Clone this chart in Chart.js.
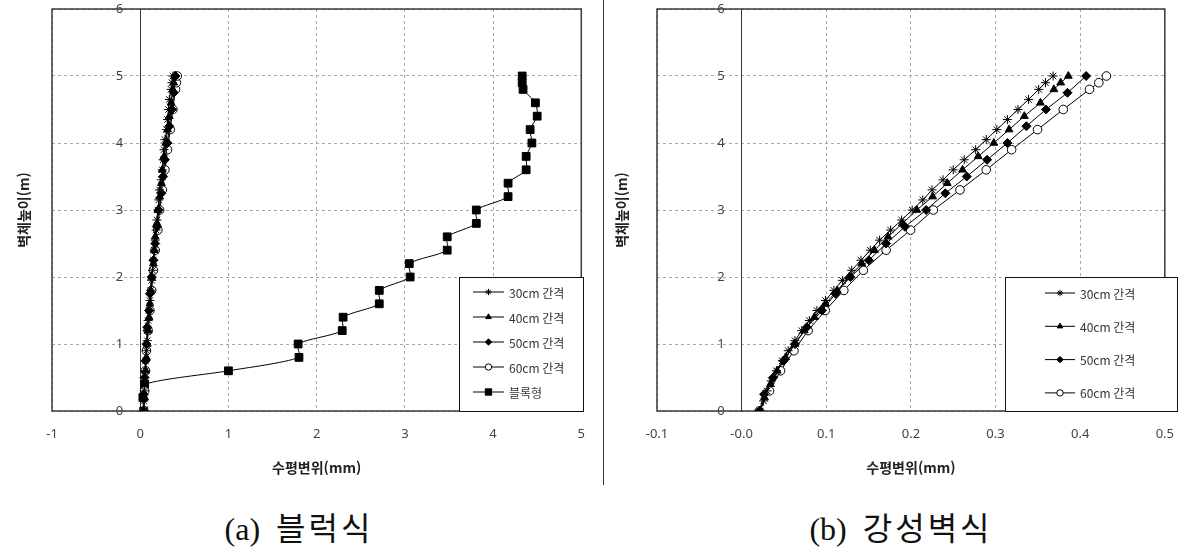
<!DOCTYPE html>
<html lang="ko">
<head>
<meta charset="utf-8">
<title>수평변위 - 벽체높이</title>
<script src="https://cdn.jsdelivr.net/npm/chart.js@4.4.0/dist/chart.umd.min.js"></script>
<style>
    html, body { margin: 0; padding: 0; background: #fff; }
    body { width: 1189px; height: 548px; position: relative; overflow: hidden; }
    canvas { position: absolute; top: 0; }
    #chartA { left: 0; }
    #chartB { left: 604px; }
    .divider { position: absolute; left: 603px; top: 0; width: 1px; height: 485px; background: #333; }
    .caption {
        position: absolute; top: 511px; transform: translateX(-50%);
        font-family: "Liberation Serif", "Noto Sans CJK KR", serif;
        font-size: 32px; line-height: 36px; color: #111; white-space: nowrap;
    }
    .caption span { letter-spacing: 3px; margin-left: 16px; }
</style>
</head>
<body>
<canvas id="chartA" width="600" height="485"></canvas>
<div class="divider"></div>
<canvas id="chartB" width="585" height="485"></canvas>
<div class="caption" style="left:299px">(a)<span>블럭식</span></div>
<div class="caption" style="left:901px">(b)<span>강성벽식</span></div>

<script>
// --- data: 벽체높이(m) for each series, and 수평변위(mm) ---
const seriesLabels = ['30cm 간격', '40cm 간격', '50cm 간격', '60cm 간격', '블록형'];

const h30 = [0, 0.15, 0.3, 0.45, 0.6, 0.75, 0.9, 1.05, 1.2, 1.35, 1.5, 1.65, 1.8, 1.95, 2.1, 2.25, 2.4, 2.55,
             2.7, 2.85, 3.0, 3.15, 3.3, 3.45, 3.6, 3.75, 3.9, 4.05, 4.2, 4.35, 4.5, 4.65, 4.8, 4.9, 5.0];
const h40 = [0, 0.2, 0.4, 0.6, 0.8, 1.0, 1.2, 1.4, 1.6, 1.8, 2.0, 2.2, 2.4, 2.6, 2.8, 3.0, 3.2, 3.4, 3.6,
             3.8, 4.0, 4.2, 4.4, 4.6, 4.8, 4.9, 5.0];
const h50 = [0, 0.25, 0.5, 0.75, 1.0, 1.25, 1.5, 1.75, 2.0, 2.25, 2.5, 2.75, 3.0, 3.25, 3.5, 3.75, 4.0, 4.25,
             4.5, 4.75, 5.0];
const h60 = [0, 0.3, 0.6, 0.9, 1.2, 1.5, 1.8, 2.1, 2.4, 2.7, 3.0, 3.3, 3.6, 3.9, 4.2, 4.5, 4.8, 4.9, 5.0];
const hBlock = h40;

// (a) 블럭식
const a30 = [0.04, 0.04, 0.05, 0.05, 0.06, 0.06, 0.07, 0.08, 0.08, 0.09, 0.10, 0.11, 0.12, 0.13, 0.14, 0.15, 0.16, 0.17,
             0.18, 0.19, 0.20, 0.21, 0.22, 0.24, 0.25, 0.26, 0.27, 0.28, 0.30, 0.31, 0.32, 0.33, 0.35, 0.36, 0.37];
const a40 = [0.04, 0.05, 0.05, 0.06, 0.07, 0.08, 0.09, 0.10, 0.11, 0.12, 0.13, 0.15, 0.16, 0.17, 0.19, 0.20, 0.22, 0.24,
             0.25, 0.27, 0.29, 0.31, 0.33, 0.35, 0.37, 0.38, 0.39];
const a50 = [0.04, 0.04, 0.05, 0.06, 0.07, 0.08, 0.10, 0.11, 0.13, 0.15, 0.17, 0.19, 0.21, 0.24, 0.26, 0.28, 0.31, 0.33,
             0.36, 0.38, 0.40];
const a60 = [0.04, 0.05, 0.06, 0.07, 0.09, 0.11, 0.13, 0.15, 0.17, 0.20, 0.22, 0.25, 0.28, 0.31, 0.34, 0.37, 0.40, 0.41, 0.42];
const aBlock = [0.04, 0.03, 0.05, 1.00, 1.80, 1.79, 2.29, 2.30, 2.71, 2.71, 3.06, 3.05, 3.48, 3.48, 3.81, 3.81, 4.17, 4.17,
                4.375, 4.375, 4.44, 4.42, 4.50, 4.48, 4.34, 4.33, 4.33];

// (b) 강성벽식
const b30 = [0.022, 0.026, 0.030, 0.035, 0.041, 0.048, 0.055, 0.063, 0.071, 0.080, 0.089, 0.099, 0.109, 0.119, 0.130,
             0.141, 0.152, 0.163, 0.176, 0.189, 0.2015, 0.214, 0.225, 0.238, 0.250, 0.263, 0.2765, 0.289, 0.3015,
             0.314, 0.3265, 0.339, 0.351, 0.359, 0.368];
const b40 = [0.022, 0.027, 0.034, 0.042, 0.052, 0.063, 0.074, 0.086, 0.099, 0.113, 0.127, 0.142, 0.157, 0.173, 0.190,
             0.207, 0.2257, 0.243, 0.261, 0.2795, 0.298, 0.316, 0.334, 0.353, 0.369, 0.377, 0.386];
const b50 = [0.021, 0.0265, 0.0373, 0.0496, 0.063, 0.077, 0.095, 0.111, 0.1284, 0.1503, 0.1707, 0.193, 0.218, 0.2407,
             0.266, 0.290, 0.314, 0.3365, 0.3595, 0.385, 0.407];
const b60 = [0.0208, 0.0329, 0.046, 0.0618, 0.0785, 0.0988, 0.1207, 0.1438, 0.1707, 0.1996, 0.2265, 0.258, 0.289,
             0.319, 0.3496, 0.380, 0.411, 0.422, 0.431];

const xTicksA = { min: -1, max: 5, step: 1 };
const xTicksB = { min: -0.1, max: 0.5, step: 0.1 };
const yTicks = { min: 0, max: 6, step: 1 };

const xTitle = '수평변위(mm)';
const yTitle = '벽체높이(m)';

const markerStyles = [
    { pointStyle: 'star', pointBackgroundColor: '#000', radius: 4.5 },
    { pointStyle: 'triangle', pointBackgroundColor: '#000', radius: 4.5 },
    { pointStyle: 'rectRot', pointBackgroundColor: '#000', radius: 4.5 },
    { pointStyle: 'circle', pointBackgroundColor: '#fff', radius: 4.3 },
    { pointStyle: 'rect', pointBackgroundColor: '#000', radius: 5.5 }
];

const tickFont = '13px "Noto Sans", sans-serif';
const tickColor = '#444';

function pairs(xs, ys) {
    return xs.map((x, i) => ({ x: x, y: ys[i] }));
}

function makeDataset(index, xs, ys, tension) {
    const m = markerStyles[index];
    return {
        label: seriesLabels[index],
        data: pairs(xs, ys),
        showLine: true,
        borderColor: '#000',
        borderWidth: 1,
        tension: tension || 0,
        pointStyle: m.pointStyle,
        pointRadius: m.radius,
        pointBackgroundColor: m.pointBackgroundColor,
        pointBorderColor: '#000',
        pointBorderWidth: 1
    };
}

// plot frame, y tick labels beside the x=0 axis, axis titles and the boxed legend
const framePlugin = {
    id: 'frame',
    beforeDatasetsDraw(chart) {
        const { ctx, chartArea: a, scales } = chart;
        ctx.save();
        ctx.strokeStyle = '#3a3a3a';
        ctx.lineWidth = 1.5;
        ctx.strokeRect(a.left, a.top, a.right - a.left, a.bottom - a.top);

        const axisX = scales.x.getPixelForValue(0);
        ctx.fillStyle = tickColor;
        ctx.font = tickFont;
        ctx.textAlign = 'right';
        ctx.textBaseline = 'middle';
        scales.y.ticks.forEach(t => {
            ctx.fillText(String(t.value), axisX - 17, scales.y.getPixelForValue(t.value));
        });
        ctx.restore();
    },
    afterDraw(chart, args, opts) {
        const { ctx, chartArea: a } = chart;
        ctx.save();
        ctx.fillStyle = '#222';
        ctx.font = 'bold 14px "Noto Sans CJK KR", sans-serif';
        ctx.textAlign = 'center';
        ctx.textBaseline = 'middle';
        ctx.fillText(xTitle, (a.left + a.right) / 2, opts.xTitleY);
        ctx.translate(opts.yTitleX, (a.top + a.bottom) / 2);
        ctx.rotate(-Math.PI / 2);
        ctx.fillText(yTitle, 0, 0);
        ctx.restore();

        const lg = opts.legend;
        ctx.save();
        ctx.fillStyle = '#fff';
        ctx.fillRect(lg.left, lg.top, lg.right - lg.left, a.bottom - lg.top);
        ctx.strokeStyle = '#111';
        ctx.lineWidth = 1;
        ctx.strokeRect(lg.left + 0.5, lg.top + 0.5, lg.right - lg.left - 1, a.bottom - lg.top);
        ctx.font = '12px "Noto Sans CJK KR", sans-serif';
        ctx.textBaseline = 'middle';
        chart.data.datasets.forEach((ds, i) => {
            const y = lg.firstRow + i * lg.rowGap;
            ctx.strokeStyle = '#000';
            ctx.beginPath();
            ctx.moveTo(lg.lineFrom, y);
            ctx.lineTo(lg.lineTo, y);
            ctx.stroke();
            ctx.fillStyle = ds.pointBackgroundColor;
            Chart.helpers.drawPoint(ctx, {
                pointStyle: ds.pointStyle, rotation: 0,
                radius: ds.pointStyle === 'rect' ? 4.5 : 3.2, borderWidth: 1
            }, (lg.lineFrom + lg.lineTo) / 2, y);
            ctx.fillStyle = '#333';
            ctx.textAlign = 'left';
            ctx.fillText(ds.label, lg.textX, y + 1);
        });
        ctx.restore();
    }
};

function makeChart(canvasId, datasets, xr, decimals, layoutPad, frameOpts) {
    return new Chart(document.getElementById(canvasId), {
        type: 'scatter',
        data: { datasets: datasets },
        options: {
            responsive: false,
            animation: false,
            layout: { padding: layoutPad },
            plugins: {
                legend: { display: false },
                tooltip: { enabled: false },
                frame: frameOpts
            },
            scales: {
                x: {
                    type: 'linear',
                    min: xr.min,
                    max: xr.max,
                    ticks: {
                        stepSize: xr.step,
                        padding: 15,
                        color: tickColor,
                        font: { family: '"Noto Sans", sans-serif', size: 13 },
                        callback: v => Number(v).toFixed(decimals)
                    },
                    grid: { color: '#a8a8a8', lineWidth: 1, drawTicks: false },
                    border: { display: false, dash: [3, 3] },
                    afterFit(scale) { scale.height = 74; }
                },
                y: {
                    type: 'linear',
                    position: { x: 0 },
                    min: yTicks.min,
                    max: yTicks.max,
                    ticks: { stepSize: yTicks.step, display: false },
                    grid: { color: '#a8a8a8', lineWidth: 1, drawTicks: false },
                    border: { display: true, color: '#333', width: 1, dash: [3, 3] },
                    afterFit(scale) { scale.paddingTop = 0; scale.paddingBottom = 0; }
                }
            }
        },
        plugins: [framePlugin]
    });
}

document.addEventListener('DOMContentLoaded', function() {
    makeChart('chartA', [
        makeDataset(0, a30, h30),
        makeDataset(1, a40, h40),
        makeDataset(2, a50, h50),
        makeDataset(3, a60, h60),
        makeDataset(4, aBlock, hBlock, 0.25)
    ], xTicksA, 0, { left: 52, top: 9, right: 17, bottom: 0 }, {
        xTitleY: 468,
        yTitleX: 24,
        legend: { left: 459, right: 584, top: 277, firstRow: 292, rowGap: 25, lineFrom: 473, lineTo: 504, textX: 509 }
    });

    makeChart('chartB', [
        makeDataset(0, b30, h30),
        makeDataset(1, b40, h40),
        makeDataset(2, b50, h50),
        makeDataset(3, b60, h60)
    ], xTicksB, 1, { left: 53, top: 9, right: 12, bottom: 0 }, {
        xTitleY: 468,
        yTitleX: 18,
        legend: { left: 401, right: 574, top: 277, firstRow: 293, rowGap: 33.3, lineFrom: 441, lineTo: 471, textX: 476 }
    });
});
</script>
</body>
</html>
